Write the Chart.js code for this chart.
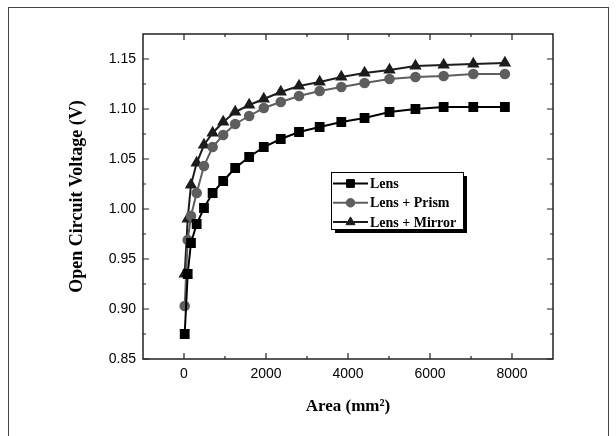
<!DOCTYPE html>
<html>
<head>
<meta charset="utf-8">
<script src="https://cdn.jsdelivr.net/npm/chart.js@4.4.1/dist/chart.umd.min.js"></script>
<style>
  html, body { margin: 0; padding: 0; background: #fff; }
  #wrap { width: 616px; height: 436px; }
</style>
</head>
<body>
<div id="wrap"><canvas id="grafica" width="616" height="436"></canvas></div>
<script>
// --- datos ---
const areas = [17, 90, 170, 309, 487, 698, 956, 1248, 1589, 1946, 2360, 2805, 3309, 3837, 4404, 5012, 5645, 6333, 7056, 7827];
const vocLens = [0.875, 0.935, 0.966, 0.985, 1.001, 1.016, 1.028, 1.041, 1.052, 1.062, 1.070, 1.077, 1.082, 1.087, 1.091, 1.097, 1.100, 1.102, 1.102, 1.102];
const vocPrism = [0.903, 0.969, 0.993, 1.016, 1.043, 1.062, 1.074, 1.085, 1.093, 1.101, 1.107, 1.113, 1.118, 1.122, 1.126, 1.130, 1.132, 1.133, 1.135, 1.135];
const vocMirror = [0.935, 0.990, 1.024, 1.046, 1.064, 1.076, 1.087, 1.097, 1.104, 1.110, 1.117, 1.123, 1.127, 1.132, 1.136, 1.139, 1.143, 1.144, 1.145, 1.146];
const seriesNames = ['Lens', 'Lens + Prism', 'Lens + Mirror'];

// ticks
const xTicksMajor = [0, 2000, 4000, 6000, 8000];
const xTicksMinor = [1000, 3000, 5000, 7000];
const yTicksMajor = [0.85, 0.90, 0.95, 1.00, 1.05, 1.10, 1.15];
const yTicksMinor = [0.875, 0.925, 0.975, 1.025, 1.075, 1.125];

const toPts = (ys) => ys.map((y, i) => ({ x: areas[i], y: y }));

// --- plugin: marco, ticks hacia adentro y leyenda con sombra ---
const marcoPlugin = {
  id: 'marco',
  beforeDraw(chart) {
    const ctx = chart.ctx;
    ctx.save();
    ctx.fillStyle = '#fff';
    ctx.fillRect(0, 0, chart.width, chart.height);
    ctx.strokeStyle = '#444';
    ctx.lineWidth = 1;
    ctx.strokeRect(8.5, 7.5, 600, 440);
    ctx.restore();
  },
  afterDraw(chart) {
    const ctx = chart.ctx;
    const a = chart.chartArea;
    const xs = chart.scales.x, ys = chart.scales.y;
    ctx.save();
    ctx.strokeStyle = '#222';
    ctx.lineWidth = 1.5;
    ctx.strokeRect(a.left, a.top, a.right - a.left, a.bottom - a.top);

    ctx.lineWidth = 1.2;
    ctx.beginPath();
    const tickX = (v, len) => {
      const px = xs.getPixelForValue(v);
      ctx.moveTo(px, a.bottom); ctx.lineTo(px, a.bottom - len);
      ctx.moveTo(px, a.top); ctx.lineTo(px, a.top + len);
    };
    const tickY = (v, len) => {
      const py = ys.getPixelForValue(v);
      ctx.moveTo(a.left, py); ctx.lineTo(a.left + len, py);
      ctx.moveTo(a.right, py); ctx.lineTo(a.right - len, py);
    };
    xTicksMajor.forEach(v => tickX(v, 6));
    xTicksMinor.forEach(v => tickX(v, 3));
    yTicksMajor.forEach(v => tickY(v, 6));
    yTicksMinor.forEach(v => tickY(v, 3));
    ctx.stroke();

    // leyenda
    const bx = 331, by = 172, bw = 132, bh = 57;
    ctx.fillStyle = '#000';
    ctx.fillRect(bx + 4, by + 4, bw, bh);
    ctx.fillStyle = '#fff';
    ctx.fillRect(bx, by, bw, bh);
    ctx.strokeStyle = '#000';
    ctx.lineWidth = 1;
    ctx.strokeRect(bx + 0.5, by + 0.5, bw, bh);

    ctx.font = 'bold 14px "Liberation Serif", "Times New Roman", serif';
    ctx.textBaseline = 'middle';
    chart.data.datasets.forEach((ds, i) => {
      const yy = by + 11.5 + i * 19.3;
      ctx.strokeStyle = ds.borderColor;
      ctx.lineWidth = 2;
      ctx.beginPath();
      ctx.moveTo(bx + 2, yy); ctx.lineTo(bx + 37, yy);
      ctx.stroke();
      ctx.fillStyle = ds.pointBackgroundColor;
      ctx.strokeStyle = ds.borderColor;
      ctx.lineWidth = 1;
      Chart.helpers.drawPoint(ctx, { pointStyle: ds.pointStyle, radius: ds.pointRadius, rotation: 0, borderWidth: 1 }, bx + 19.5, yy);
      ctx.fillStyle = '#000';
      ctx.fillText(ds.label, bx + 39, yy + 1);
    });
    ctx.restore();
  }
};

const ctx = document.getElementById('grafica').getContext('2d');
const grafica = new Chart(ctx, {
  type: 'line',
  data: {
    datasets: [
      {
        label: seriesNames[0],
        data: toPts(vocLens),
        borderColor: '#000',
        backgroundColor: '#000',
        pointBackgroundColor: '#000',
        pointBorderColor: '#000',
        pointStyle: 'rect',
        pointRadius: 5.5,
        borderWidth: 2
      },
      {
        label: seriesNames[1],
        data: toPts(vocPrism),
        borderColor: '#5e5e5e',
        backgroundColor: '#5e5e5e',
        pointBackgroundColor: '#5e5e5e',
        pointBorderColor: '#5e5e5e',
        pointStyle: 'circle',
        pointRadius: 4.3,
        borderWidth: 2
      },
      {
        label: seriesNames[2],
        data: toPts(vocMirror),
        borderColor: '#1c1c1c',
        backgroundColor: '#1c1c1c',
        pointBackgroundColor: '#1c1c1c',
        pointBorderColor: '#1c1c1c',
        pointStyle: 'triangle',
        pointRadius: 5.2,
        borderWidth: 2
      }
    ]
  },
  options: {
    responsive: false,
    animation: false,
    devicePixelRatio: 1,
    layout: { padding: { top: 34, right: 63, left: 0, bottom: 0 } },
    plugins: {
      legend: { display: false },
      tooltip: { enabled: false }
    },
    elements: { line: { tension: 0 } },
    scales: {
      x: {
        type: 'linear',
        min: -1000,
        max: 9000,
        afterFit: (s) => { s.height = 77; },
        afterBuildTicks: (s) => { s.ticks = xTicksMajor.map(v => ({ value: v })); },
        grid: { display: false, drawTicks: false },
        border: { display: false },
        ticks: {
          padding: 7,
          color: '#000',
          font: { family: '"Liberation Sans", Arial, sans-serif', size: 14 },
          callback: (v) => String(v)
        },
        title: {
          display: true,
          text: 'Area (mm²)',
          color: '#000',
          padding: { top: 0, bottom: 19 },
          font: { family: '"Liberation Serif", "Times New Roman", serif', size: 17, weight: 'bold' }
        }
      },
      y: {
        type: 'linear',
        min: 0.85,
        max: 1.175,
        afterFit: (s) => { s.width = 143; },
        afterBuildTicks: (s) => { s.ticks = yTicksMajor.map(v => ({ value: v })); },
        grid: { display: false, drawTicks: false },
        border: { display: false },
        ticks: {
          padding: 7,
          color: '#000',
          font: { family: '"Liberation Sans", Arial, sans-serif', size: 14 },
          callback: (v) => Number(v).toFixed(2)
        },
        title: {
          display: true,
          text: 'Open Circuit Voltage (V)',
          color: '#000',
          padding: { top: 67, bottom: 0 },
          font: { family: '"Liberation Serif", "Times New Roman", serif', size: 18, weight: 'bold' }
        }
      }
    }
  },
  plugins: [marcoPlugin]
});
</script>
</body>
</html>
